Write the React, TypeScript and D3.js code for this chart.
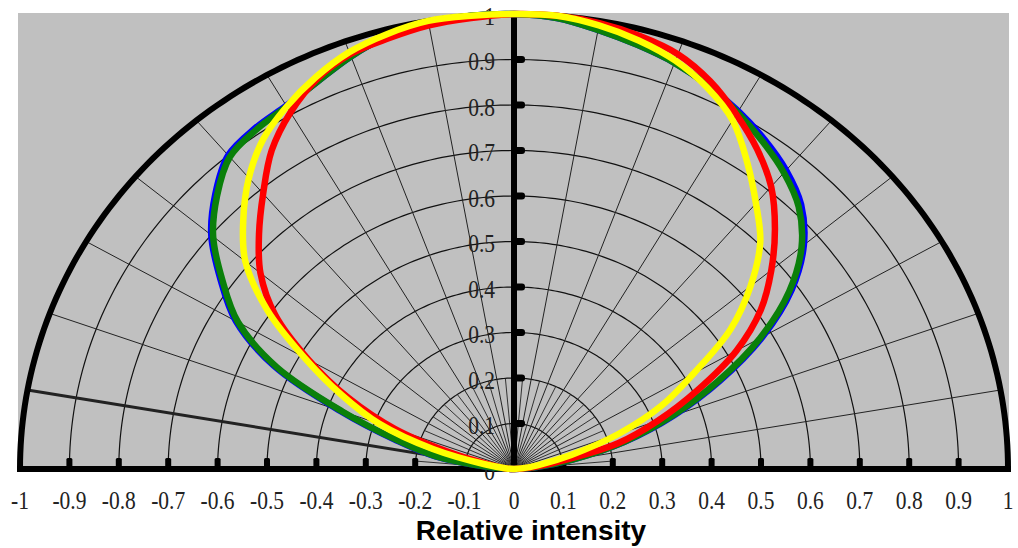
import React from 'react';
import * as d3 from 'd3';

// Angles (degrees from the vertical axis) at which intensities were read
const ANGLES = [-90, -85, -80, -75, -70, -65, -60, -55, -50, -45, -40, -35, -30, -25, -20, -15, -10, -5, 0,
  5, 10, 15, 20, 25, 30, 35, 40, 45, 50, 55, 60, 65, 70, 75, 80, 85, 90];

const BLUE = [0, 0.05, 0.163, 0.25, 0.376, 0.536, 0.65, 0.725, 0.8, 0.855, 0.9, 0.914, 0.922, 0.94, 0.965, 0.985, 0.995, 1, 1,
  0.995, 0.98, 0.965, 0.95, 0.93, 0.908, 0.884, 0.857, 0.822, 0.766, 0.686, 0.581, 0.461, 0.345, 0.233, 0.12, 0.04, 0];
const GREEN = [0, 0.05, 0.16, 0.245, 0.37, 0.53, 0.645, 0.72, 0.795, 0.85, 0.895, 0.91, 0.92, 0.94, 0.965, 0.985, 0.995, 1, 1,
  0.995, 0.98, 0.965, 0.95, 0.93, 0.905, 0.878, 0.85, 0.815, 0.76, 0.68, 0.575, 0.455, 0.34, 0.23, 0.12, 0.04, 0];
const RED = [0, 0.02, 0.04, 0.12, 0.255, 0.37, 0.48, 0.59, 0.67, 0.73, 0.79, 0.855, 0.905, 0.945, 0.97, 0.98, 0.99, 0.995, 1,
  1.0, 0.995, 0.985, 0.97, 0.94, 0.9, 0.858, 0.81, 0.747, 0.68, 0.61, 0.52, 0.41, 0.31, 0.218, 0.09, 0.03, 0];
const YELLOW = [0, 0.015, 0.06, 0.17, 0.29, 0.385, 0.49, 0.61, 0.71, 0.775, 0.835, 0.885, 0.92, 0.95, 0.975, 0.99, 1, 1, 1,
  1.0, 0.99, 0.975, 0.955, 0.925, 0.885, 0.823, 0.762, 0.705, 0.625, 0.535, 0.42, 0.33, 0.225, 0.12, 0.05, 0.015, 0];

const SERIES_NAMES = ['blue', 'green', 'red', 'yellow'];
const SERIES_COLORS = ['#0000ff', '#0a800a', '#ff0000', '#ffff00'];

const X_TICKS = [-1, -0.9, -0.8, -0.7, -0.6, -0.5, -0.4, -0.3, -0.2, -0.1, 0, 0.1, 0.2, 0.3, 0.4, 0.5, 0.6, 0.7, 0.8, 0.9, 1];
const X_TICK_LABELS = ['-1', '-0.9', '-0.8', '-0.7', '-0.6', '-0.5', '-0.4', '-0.3', '-0.2', '-0.1', '0',
  '0.1', '0.2', '0.3', '0.4', '0.5', '0.6', '0.7', '0.8', '0.9', '1'];
const Y_TICKS = [0, 0.1, 0.2, 0.3, 0.4, 0.5, 0.6, 0.7, 0.8, 0.9, 1];
const Y_TICK_LABELS = ['0', '0.1', '0.2', '0.3', '0.4', '0.5', '0.6', '0.7', '0.8', '0.9', '1'];
const RINGS = [0.1, 0.2, 0.3, 0.4, 0.5, 0.6, 0.7, 0.8, 0.9];
const SPOKES_MAJOR = [-80, -70, -60, -50, -40, -30, -20, -10, 10, 20, 30, 40, 50, 60, 70, 80];
const SPOKES_MINOR = [-85, -75, -65, -55, -45, -35, -25, -15, -5, 5, 15, 25, 35, 45, 55, 65, 75, 85];
const THICK_SPOKE = -80;
const X_LABEL = 'Relative intensity';

export default function App() {
  const W = 1018, H = 548;
  const x = d3.scaleLinear().domain([-1, 1]).range([20, 1008]);
  const y = d3.scaleLinear().domain([0, 1]).range([469, 14]);
  const pt = (r: number, deg: number): [number, number] => {
    const t = (deg * Math.PI) / 180;
    return [x(r * Math.sin(t)), y(r * Math.cos(t))];
  };
  const line = d3.line<[number, number]>();
  const arcPath = (r: number) => line(d3.range(-90, 90.01, 1).map((a) => pt(r, a))) || '';
  const curveLine = d3.line<[number, number]>().curve(d3.curveCatmullRom.alpha(0.5));
  const seriesPath = (vals: number[]) => curveLine(ANGLES.map((a, i) => pt(vals[i], a))) || '';
  const series = [BLUE, GREEN, RED, YELLOW];

  const x0 = x(0), y0 = y(0);

  return (
    <svg width={W} height={H} style={{ position: 'absolute', left: 0, top: 0, background: '#fff' }}>
      <rect x={18} y={13} width={991} height={458} fill="#c0c0c0" />
      {RINGS.map((r) => (
        <path key={'r' + r} d={arcPath(r)} fill="none" stroke="#111" strokeWidth={1.2} />
      ))}
      {SPOKES_MINOR.map((a) => {
        const [ax, ay] = pt(0.2, a);
        return <line key={'m' + a} x1={x0} y1={y0} x2={ax} y2={ay} stroke="#222" strokeWidth={0.9} />;
      })}
      {SPOKES_MAJOR.map((a) => {
        const [ax, ay] = pt(1, a);
        return (
          <line key={'s' + a} x1={x0} y1={y0} x2={ax} y2={ay} stroke="#222"
            strokeWidth={a === THICK_SPOKE ? 3 : 1} />
        );
      })}
      {Y_TICKS.filter((v) => v > 0 && v < 1).map((v) => (
        <rect key={'yt' + v} x={x0} y={y(v) - 3.5} width={11} height={7} rx={3} fill="#000" />
      ))}
      {X_TICKS.filter((v) => v !== 0 && Math.abs(v) < 1).map((v) => (
        <rect key={'xt' + v} x={x(v) - 3} y={458} width={6} height={10} rx={1.5} fill="#000" />
      ))}
      <path d={arcPath(1)} fill="none" stroke="#000" strokeWidth={6} />
      <line x1={x0} y1={y(1)} x2={x0} y2={y0} stroke="#000" strokeWidth={6} />
      <line x1={17} y1={y0} x2={1011} y2={y0} stroke="#000" strokeWidth={6} />
      {Y_TICKS.map((v, i) => (
        <g key={'yl' + v} transform={`translate(495,${y(v) + 10.5}) scale(0.86,1)`}>
          <text x={0} y={0} textAnchor="end" fontFamily="'Liberation Serif', 'Times New Roman', serif"
            fontSize={25} fill="#222">{Y_TICK_LABELS[i]}</text>
        </g>
      ))}
      {series.map((vals, i) => (
        <path key={SERIES_NAMES[i]} d={seriesPath(vals)} fill="none" stroke={SERIES_COLORS[i]}
          strokeWidth={6.5} strokeLinejoin="round" strokeLinecap="round" />
      ))}
      {X_TICKS.map((v, i) => (
        <g key={'xl' + v} transform={`translate(${x(v)},509) scale(0.86,1)`}>
          <text x={0} y={0} textAnchor="middle" fontFamily="'Liberation Serif', 'Times New Roman', serif"
            fontSize={25} fill="#222">{X_TICK_LABELS[i]}</text>
        </g>
      ))}
      <text x={531} y={540} textAnchor="middle" fontFamily="'Liberation Sans', Arial, sans-serif"
        fontWeight="bold" fontSize={28} fill="#000">{X_LABEL}</text>
    </svg>
  );
}
